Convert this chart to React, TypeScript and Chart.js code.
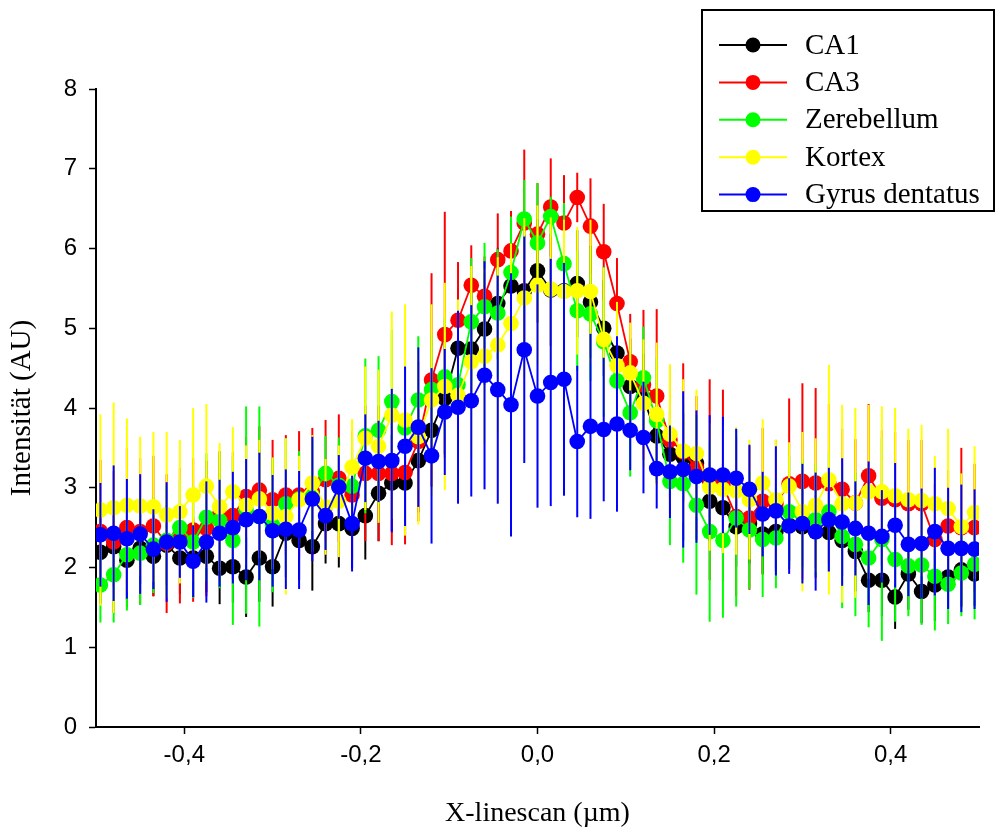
import React, { useEffect, useRef } from "react";
import { Chart, registerables } from "chart.js";

Chart.register(...registerables);

// x positions of the linescan samples (µm)
const xPositions = [
  -0.495, -0.48, -0.465, -0.45, -0.435, -0.42, -0.405, -0.39, -0.375, -0.36,
  -0.345, -0.33, -0.315, -0.3, -0.285, -0.27, -0.255, -0.24, -0.225, -0.21,
  -0.195, -0.18, -0.165, -0.15, -0.135, -0.12, -0.105, -0.09, -0.075, -0.06,
  -0.045, -0.03, -0.015, 0, 0.015, 0.03, 0.045, 0.06, 0.075, 0.09,
  0.105, 0.12, 0.135, 0.15, 0.165, 0.18, 0.195, 0.21, 0.225, 0.24,
  0.255, 0.27, 0.285, 0.3, 0.315, 0.33, 0.345, 0.36, 0.375, 0.39,
  0.405, 0.42, 0.435, 0.45, 0.465, 0.48, 0.495,
];

const seriesNames = ["CA1", "CA3", "Zerebellum", "Kortex", "Gyrus dentatus"];
const seriesColors = ["#000000", "#ff0000", "#00ff00", "#ffff00", "#0000ff"];

const ca1 = [
  2.19, 2.26, 2.09, 2.24, 2.14, 2.28, 2.12, 2.12, 2.14, 1.99,
  2.01, 1.88, 2.12, 2.01, 2.43, 2.34, 2.26, 2.55, 2.55, 2.49,
  2.65, 2.93, 3.06, 3.06, 3.34, 3.72, 4.12, 4.75, 4.74, 4.99,
  5.31, 5.53, 5.47, 5.72, 5.48, 5.47, 5.56, 5.33, 5.0, 4.69,
  4.27, 4.13, 3.65, 3.42, 3.38, 3.31, 2.83, 2.75, 2.51, 2.55,
  2.42, 2.45, 2.53, 2.51, 2.45, 2.44, 2.34, 2.2, 1.84, 1.84,
  1.63, 1.92, 1.7, 1.78, 1.88, 1.97, 1.92,
];
const ca1Err = [
  0.45, 0.5, 0.5, 0.45, 0.5, 0.5, 0.45, 0.5, 0.45, 0.45,
  0.45, 0.5, 0.55, 0.5, 0.55, 0.5, 0.55, 0.5, 0.55, 0.5,
  0.55, 0.6, 0.6, 0.65, 0.65, 0.7, 0.7, 0.75, 0.75, 0.7,
  0.7, 0.75, 0.7, 0.65, 0.7, 0.7, 0.67, 0.7, 0.6, 0.6,
  0.6, 0.55, 0.55, 0.55, 0.55, 0.6, 0.5, 0.55, 0.5, 0.5,
  0.5, 0.5, 0.45, 0.5, 0.45, 0.5, 0.45, 0.5, 0.4, 0.45,
  0.4, 0.45, 0.4, 0.45, 0.4, 0.45, 0.4,
];

const ca3 = [
  2.45, 2.32, 2.5, 2.45, 2.52, 2.3, 2.4, 2.47, 2.49, 2.66,
  2.65, 2.89, 2.97, 2.85, 2.91, 2.91, 2.95, 3.1, 3.12, 2.91,
  3.18, 3.18, 3.18, 3.19, 3.58, 4.35, 4.92, 5.1, 5.54, 5.4,
  5.86, 5.97, 6.32, 6.18, 6.52, 6.32, 6.64, 6.28, 5.96, 5.31,
  4.58, 4.29, 4.15, 3.6, 3.45, 3.25, 3.1, 3.03, 2.64, 2.62,
  2.83, 2.8, 3.05, 3.08, 3.06, 3.05, 2.98, 2.81, 3.15, 2.87,
  2.85, 2.8, 2.8, 2.35, 2.52, 2.5, 2.5,
];
const ca3Err = [
  0.9, 0.89, 1.0, 0.92, 0.88, 0.87, 0.85, 0.9, 0.85, 0.8,
  0.8, 0.75, 0.8, 0.75, 0.75, 0.8, 0.8, 0.75, 0.8, 0.8,
  0.85, 0.85, 0.9, 0.9, 1.0, 1.34, 1.54, 0.73, 0.5, 0.5,
  0.58, 0.5, 0.92, 0.64, 0.61, 0.6, 0.31, 0.6, 0.6, 0.57,
  0.6, 0.94, 1.09, 0.93, 1.11, 0.9, 1.26, 1.2, 1.0, 0.9,
  0.92, 0.8, 1.07, 1.23, 1.19, 1.0, 0.76, 0.8, 0.9, 0.85,
  0.85, 0.8, 0.8, 0.7, 0.7, 1.0, 0.8,
];

const zerebellum = [
  1.78, 1.91, 2.16, 2.18, 2.28, 2.34, 2.5, 2.32, 2.63, 2.59,
  2.34, 2.72, 2.64, 2.53, 2.8, 2.86, 2.9, 3.18, 3.03, 3.02,
  3.65, 3.72, 4.08, 3.75, 4.1, 4.23, 4.39, 4.29, 5.08, 5.27,
  5.19, 5.7, 6.37, 6.07, 6.4, 5.81, 5.22, 5.18, 4.83, 4.34,
  3.94, 4.38, 3.84, 3.08, 3.05, 2.78, 2.45, 2.34, 2.62, 2.47,
  2.35, 2.37, 2.7, 2.66, 2.6, 2.7, 2.39, 2.29, 2.12, 2.35,
  2.1, 2.02, 2.03, 1.89, 1.79, 1.93, 2.04,
];
const zerebellumErr = [
  0.47, 0.6, 0.7, 0.65, 0.6, 0.7, 0.6, 0.7, 0.8, 0.85,
  1.06, 1.3, 1.38, 0.84, 0.82, 0.6, 0.7, 0.47, 0.6, 0.6,
  0.97, 0.93, 0.9, 0.8, 0.8, 0.7, 0.75, 0.7, 0.8, 0.8,
  0.8, 0.7, 0.49, 0.75, 0.25, 0.76, 0.75, 0.84, 0.94, 0.93,
  0.8, 0.64, 0.79, 0.8, 0.99, 1.12, 1.13, 0.97, 1.11, 0.74,
  0.72, 0.63, 0.7, 0.7, 0.7, 0.75, 0.9, 0.9, 0.87, 1.27,
  0.78, 0.63, 0.75, 0.68, 0.5, 0.54, 0.69,
];

const kortex = [
  2.72, 2.75, 2.78, 2.77, 2.76, 2.66, 2.7, 2.91, 3.02, 2.76,
  2.95, 2.78, 2.86, 2.68, 2.64, 2.85, 3.06, 2.76, 2.83, 3.26,
  3.62, 3.52, 3.91, 3.85, 3.64, 4.1, 4.27, 4.16, 4.58, 4.65,
  4.79, 5.06, 5.38, 5.54, 5.49, 5.46, 5.47, 5.46, 4.86, 4.53,
  4.44, 4.06, 3.92, 3.67, 3.46, 3.43, 3.01, 2.98, 2.96, 2.85,
  3.06, 2.85, 3.02, 2.7, 2.78, 3.1, 2.8, 2.81, 2.95, 2.95,
  2.9, 2.85, 2.84, 2.8, 2.74, 2.51, 2.69,
];
const kortexErr = [
  1.2, 1.32, 1.09, 0.87, 0.94, 1.04, 0.9, 1.09, 1.03, 0.8,
  0.81, 0.75, 0.74, 0.7, 0.98, 0.55, 0.6, 0.6, 0.7, 0.6,
  0.9, 0.96, 1.3, 1.45, 1.1, 1.2, 1.3, 1.2, 1.2, 1.1,
  1.1, 1.0, 1.0, 1.0, 0.9, 0.9, 0.8, 0.9, 0.9, 0.8,
  0.63, 0.8, 0.9, 0.88, 0.9, 0.8, 0.8, 0.8, 0.8, 0.75,
  0.8, 0.75, 0.55, 1.0, 0.84, 1.44, 1.24, 1.19, 1.09, 1.07,
  1.1, 0.89, 0.95, 0.6, 1.0, 0.67, 0.83,
];

const gyrus = [
  2.41, 2.43, 2.36, 2.42, 2.23, 2.32, 2.32, 2.08, 2.32, 2.43,
  2.5, 2.6, 2.64, 2.46, 2.48, 2.47, 2.86, 2.65, 3.01, 2.55,
  3.37, 3.33, 3.34, 3.52, 3.76, 3.4, 3.95, 4.01, 4.09, 4.41,
  4.23, 4.04, 4.73, 4.15, 4.32, 4.36, 3.58, 3.77, 3.73, 3.8,
  3.72, 3.63, 3.24, 3.2, 3.23, 3.14, 3.16, 3.16, 3.12, 2.98,
  2.67, 2.71, 2.52, 2.55, 2.45, 2.6, 2.57, 2.49, 2.43, 2.39,
  2.53, 2.29, 2.3, 2.45, 2.24, 2.24, 2.23,
];
const gyrusErr = [
  0.65, 0.85, 0.75, 0.75, 0.5, 0.75, 0.45, 0.45, 0.76, 0.67,
  0.7, 0.76, 0.8, 0.7, 0.75, 0.74, 0.78, 0.43, 0.4, 0.6,
  0.55, 0.51, 0.9, 1.0, 1.0, 1.1, 0.79, 1.21, 1.2, 1.43,
  1.43, 1.65, 1.42, 1.4, 1.55, 1.46, 0.95, 1.16, 0.9, 1.1,
  0.5, 0.7, 0.5, 0.58, 0.98, 0.83, 0.75, 0.73, 0.62, 0.56,
  0.53, 0.81, 0.6, 0.75, 0.74, 0.65, 0.8, 0.59, 0.9, 0.58,
  0.78, 0.65, 0.69, 0.8, 0.76, 0.8, 0.75,
];

const seriesValues = [ca1, ca3, zerebellum, kortex, gyrus];
const seriesErrors = [ca1Err, ca3Err, zerebellumErr, kortexErr, gyrusErr];

const xTickValues = [-0.4, -0.2, 0, 0.2, 0.4];
const yTickValues = [0, 1, 2, 3, 4, 5, 6, 7, 8];

const xTitle = "X-linescan (µm)";
const yTitle = "Intensität (AU)";

const errorBarPlugin = {
  id: "errorBars",
  beforeDatasetDraw(chart: any, args: any) {
    const ds = chart.data.datasets[args.index];
    const errs: number[] = ds.errors;
    if (!errs) return;
    const xs = chart.scales.x;
    const ys = chart.scales.y;
    const ctx = chart.ctx;
    ctx.save();
    ctx.strokeStyle = ds.borderColor;
    ctx.lineWidth = 2;
    ds.data.forEach((p: any, i: number) => {
      const px = xs.getPixelForValue(p.x);
      ctx.beginPath();
      ctx.moveTo(px, ys.getPixelForValue(p.y + errs[i]));
      ctx.lineTo(px, ys.getPixelForValue(p.y - errs[i]));
      ctx.stroke();
    });
    ctx.restore();
  },
};

const legendBoxPlugin = {
  id: "legendBox",
  afterDraw(chart: any) {
    const ctx = chart.ctx;
    ctx.save();
    ctx.strokeStyle = "#000";
    ctx.lineWidth = 2;
    ctx.strokeRect(702, 10, 292, 201);
    ctx.font = '29px "Liberation Serif", serif';
    ctx.textBaseline = "middle";
    ctx.textAlign = "left";
    seriesNames.forEach((name, k) => {
      const y = 45 + k * 37.4;
      ctx.strokeStyle = seriesColors[k];
      ctx.lineWidth = 2;
      ctx.beginPath();
      ctx.moveTo(719, y);
      ctx.lineTo(787, y);
      ctx.stroke();
      ctx.fillStyle = seriesColors[k];
      ctx.beginPath();
      ctx.arc(753, y, 7.5, 0, Math.PI * 2);
      ctx.fill();
      ctx.fillStyle = "#000";
      ctx.fillText(name, 805, y + 1);
    });
    ctx.restore();
  },
};

export default function App() {
  const canvasRef = useRef<HTMLCanvasElement | null>(null);

  useEffect(() => {
    if (!canvasRef.current) return;
    const datasets = seriesNames.map((name, k) => ({
      label: name,
      data: xPositions.map((x, i) => ({ x, y: seriesValues[k][i] })),
      errors: seriesErrors[k],
      borderColor: seriesColors[k],
      backgroundColor: seriesColors[k],
      pointBackgroundColor: seriesColors[k],
      pointBorderWidth: 0,
      pointRadius: 7.8,
      borderWidth: 1.8,
      showLine: true,
      tension: 0,
      order: seriesNames.length - k,
    }));

    const chart = new Chart(canvasRef.current, {
      type: "scatter",
      data: { datasets } as any,
      plugins: [errorBarPlugin, legendBoxPlugin],
      options: {
        animation: false,
        responsive: false,
        maintainAspectRatio: false,
        layout: { padding: { top: 89, right: 16, left: 0, bottom: 0 } },
        plugins: {
          legend: { display: false },
          tooltip: { enabled: false },
        },
        scales: {
          x: {
            type: "linear",
            min: -0.5,
            max: 0.5,
            afterBuildTicks: (s: any) => {
              s.ticks = xTickValues.map((v) => ({ value: v }));
            },
            afterFit: (s: any) => {
              s.height = 103;
            },
            ticks: {
              callback: (v: any) => Number(v).toFixed(1).replace(".", ","),
              font: { family: '"Liberation Sans", Arial, sans-serif', size: 24 },
              color: "#000",
              padding: 7,
              maxRotation: 0,
              autoSkip: false,
            },
            grid: {
              display: true,
              drawOnChartArea: false,
              drawTicks: true,
              tickLength: 7,
              tickColor: "#000",
              tickWidth: 1.5,
            },
            border: { display: true, color: "#000", width: 2 },
            title: {
              display: true,
              text: xTitle,
              font: { family: '"Liberation Serif", serif', size: 28 },
              color: "#000",
              padding: { top: 0, bottom: 0 },
            },
          },
          y: {
            type: "linear",
            min: 0,
            max: 8,
            afterBuildTicks: (s: any) => {
              s.ticks = yTickValues.map((v) => ({ value: v }));
            },
            afterFit: (s: any) => {
              s.width = 96;
            },
            ticks: {
              callback: (v: any) => String(v),
              font: { family: '"Liberation Sans", Arial, sans-serif', size: 24 },
              color: "#000",
              padding: 12,
            },
            grid: {
              display: true,
              drawOnChartArea: false,
              drawTicks: true,
              tickLength: 7,
              tickColor: "#000",
              tickWidth: 1.5,
            },
            border: { display: true, color: "#000", width: 2 },
            title: {
              display: true,
              text: yTitle,
              font: { family: '"Liberation Serif", serif', size: 29 },
              color: "#000",
              padding: { top: 5, bottom: 0 },
            },
          },
        },
      } as any,
    });
    return () => chart.destroy();
  }, []);

  return (
    <div style={{ position: "absolute", left: 0, top: 0, width: 995, height: 830, background: "#fff" }}>
      <canvas ref={canvasRef} width={995} height={830} style={{ display: "block", width: 995, height: 830 }} />
    </div>
  );
}
